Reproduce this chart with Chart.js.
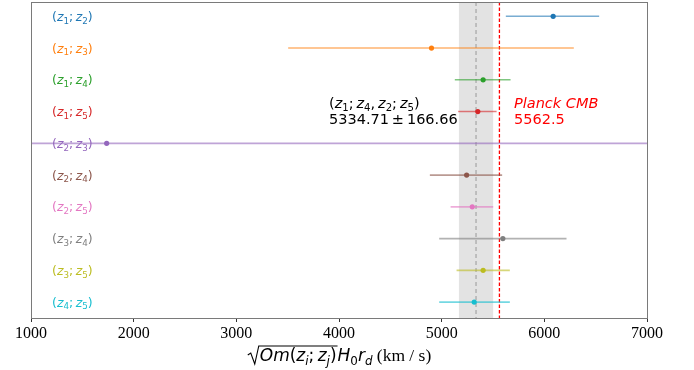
<!DOCTYPE html>
<html>
<head>
<meta charset="UTF-8">
<title>Om H0 rd</title>
<script src="https://cdn.jsdelivr.net/npm/chart.js"></script>
<style>
  body { margin: 0; background: #fff; }
</style>
</head>
<body>
<canvas id="chart" width="694" height="370"></canvas>
<script>
// pairs of redshift bins, one row each (top to bottom)
var pairs = ['(z_1; z_2)', '(z_1; z_3)', '(z_1; z_4)', '(z_1; z_5)', '(z_2; z_3)',
             '(z_2; z_4)', '(z_2; z_5)', '(z_3; z_4)', '(z_3; z_5)', '(z_4; z_5)'];
var values  = [6086, 4901, 5404, 5352, 1737, 5243, 5298, 5596, 5404, 5317];
var errLow  = [461, 1396, 276, 191, 9000, 358, 211, 620, 259, 341];
var errHigh = [448, 1386, 267, 183, 9000, 346, 204, 620, 260, 347];
var colors = ['#1f77b4', '#ff7f0e', '#2ca02c', '#d62728', '#9467bd',
              '#8c564b', '#e377c2', '#7f7f7f', '#bcbd22', '#17becf'];
var xTicks = [1000, 2000, 3000, 4000, 5000, 6000, 7000];

var combined = 5334.71;
var combinedErr = 166.66;
var planck = 5562.5;

function alpha(hex, a) {
    var r = parseInt(hex.substr(1, 2), 16), g = parseInt(hex.substr(3, 2), 16), b = parseInt(hex.substr(5, 2), 16);
    return 'rgba(' + r + ',' + g + ',' + b + ',' + a + ')';
}

// tiny "mathtext": _x is subscript, letters italic
function richParts(str) {
    var parts = [];
    for (var i = 0; i < str.length; i++) {
        var c = str[i];
        if (c === '_') {
            parts.push({ t: str[i + 1], sub: true, it: /[a-z]/i.test(str[i + 1]) });
            i++;
        } else {
            parts.push({ t: c, sub: false, it: /[A-Za-z]/.test(c) });
        }
    }
    return parts;
}

function drawRich(ctx, str, x, y, size, color, family, measureOnly) {
    family = family || 'DejaVu Sans';
    var parts = richParts(str);
    ctx.save();
    ctx.fillStyle = color;
    ctx.textBaseline = 'alphabetic';
    ctx.textAlign = 'left';
    parts.forEach(function (p) {
        var s = p.sub ? size * 0.7 : size;
        ctx.font = (p.it ? 'italic ' : '') + s + 'px "' + family + '"';
        var t = p.t === ' ' ? '\u2009' : p.t;
        if (!measureOnly) ctx.fillText(t, x, y + (p.sub ? size * 0.22 : 0));
        x += ctx.measureText(t).width;
    });
    ctx.restore();
    return x;
}

var errorSets = values.map(function (v, i) {
    return {
        type: 'line',
        data: [{ x: v - errLow[i], y: i }, { x: v + errHigh[i], y: i }],
        borderColor: alpha(colors[i], 0.6),
        borderWidth: 1.6,
        pointRadius: 0,
        showLine: true
    };
});

var pointSet = {
    type: 'scatter',
    data: values.map(function (v, i) { return { x: v, y: i }; }),
    pointBackgroundColor: colors,
    pointBorderWidth: 0,
    pointRadius: 2.6
};

var decor = {
    id: 'decor',
    beforeDatasetsDraw: function (chart) {
        var ctx = chart.ctx, a = chart.chartArea, xs = chart.scales.x;
        ctx.save();
        ctx.beginPath();
        ctx.rect(a.left, a.top, a.right - a.left, a.bottom - a.top);
        ctx.clip();
        var x1 = xs.getPixelForValue(combined - combinedErr);
        var x2 = xs.getPixelForValue(combined + combinedErr);
        ctx.fillStyle = 'rgba(128,128,128,0.22)';
        ctx.fillRect(x1, a.top, x2 - x1, a.bottom - a.top);

        ctx.lineWidth = 1.2;
        ctx.setLineDash([4, 3]);
        ctx.strokeStyle = 'rgb(165,165,165)';
        var xm = xs.getPixelForValue(combined);
        ctx.beginPath(); ctx.moveTo(xm, a.top); ctx.lineTo(xm, a.bottom); ctx.stroke();

        ctx.lineWidth = 1.3;
        ctx.setLineDash([3.5, 2]);
        ctx.strokeStyle = 'rgb(255,0,0)';
        var xp = xs.getPixelForValue(planck);
        ctx.beginPath(); ctx.moveTo(xp, a.top); ctx.lineTo(xp, a.bottom); ctx.stroke();
        ctx.restore();
    },
    afterDraw: function (chart) {
        var ctx = chart.ctx, a = chart.chartArea, xs = chart.scales.x, ys = chart.scales.y;

        // frame
        ctx.save();
        ctx.strokeStyle = '#7a7a7a';
        ctx.lineWidth = 1;
        ctx.strokeRect(Math.round(a.left) + 0.5, Math.round(a.top) + 0.5,
            Math.round(a.right - a.left), Math.round(a.bottom - a.top));
        ctx.restore();

        // row labels
        pairs.forEach(function (p, i) {
            drawRich(ctx, p, 52, ys.getPixelForValue(i) + 4.5, 12.5, colors[i]);
        });

        // combined annotation
        drawRich(ctx, '(z_1; z_4, z_2; z_5)', 329, 108, 14.5, '#000');
        ctx.save();
        ctx.fillStyle = '#000';
        ctx.font = '14.5px "DejaVu Sans"';
        ctx.fillText(combined.toFixed(2) + '\u2009\u00b1\u2009' + combinedErr.toFixed(2), 329, 124);
        ctx.fillStyle = '#ff0000';
        ctx.font = 'italic 14.5px "DejaVu Sans"';
        ctx.fillText('Planck CMB', 514, 108);
        ctx.font = '14.5px "DejaVu Sans"';
        ctx.fillText(String(planck), 514, 124);
        ctx.restore();

        // x label: sqrt(Om(zi;zj)) H0 rd (km / s)
        var size = 17, y = 361;
        var w1 = drawRich(ctx, 'Om(z_i; z_j)', 0, y, size, '#000', null, true);
        var w2 = drawRich(ctx, 'H_0r_d', 0, y, size, '#000', null, true);
        ctx.save();
        ctx.font = '17.5px "Liberation Serif"';
        var w3 = ctx.measureText(' (km / s)').width;
        ctx.restore();
        var rad = 12;
        var total = rad + w1 + w2 + w3;
        var x0 = (a.left + a.right) / 2 - total / 2;
        ctx.save();
        ctx.strokeStyle = '#000';
        ctx.lineWidth = 1.1;
        ctx.beginPath();
        ctx.moveTo(x0, y - 6);
        ctx.lineTo(x0 + 3, y - 8);
        ctx.lineTo(x0 + 7, y + 3);
        ctx.lineTo(x0 + 11, y - 15);
        ctx.lineTo(x0 + rad + w1 + 1, y - 15);
        ctx.stroke();
        ctx.restore();
        var xx = drawRich(ctx, 'Om(z_i; z_j)', x0 + rad, y, size, '#000');
        xx = drawRich(ctx, 'H_0r_d', xx + 1, y, size, '#000');
        ctx.save();
        ctx.fillStyle = '#000';
        ctx.font = '17.5px "Liberation Serif"';
        ctx.fillText(' (km / s)', xx, y);
        ctx.restore();
    }
};

new Chart(document.getElementById('chart').getContext('2d'), {
    type: 'scatter',
    data: { datasets: errorSets.concat([pointSet]) },
    options: {
        responsive: false,
        animation: false,
        layout: { autoPadding: false, padding: { left: 31, right: 47, top: 2, bottom: 0 } },
        plugins: { legend: { display: false }, tooltip: { enabled: false } },
        scales: {
            x: {
                type: 'linear',
                min: 1000,
                max: 7000,
                afterBuildTicks: function (axis) {
                    axis.ticks = xTicks.map(function (v) { return { value: v }; });
                },
                afterFit: function (axis) { axis.height = 52; },
                grid: { display: true, drawOnChartArea: false, drawTicks: true, tickLength: 4, color: '#333' },
                border: { display: false },
                ticks: {
                    color: '#000',
                    padding: 2,
                    maxRotation: 0,
                    font: { family: 'Liberation Serif', size: 16 },
                    callback: function (v) { return String(v); }
                }
            },
            y: {
                type: 'linear',
                display: false,
                min: -0.45,
                max: 9.5,
                reverse: true
            }
        }
    },
    plugins: [decor]
});
</script>
</body>
</html>
